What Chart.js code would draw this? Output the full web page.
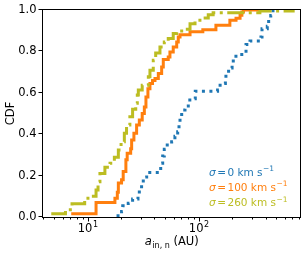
<!DOCTYPE html>
<html>
<head>
<meta charset="utf-8">
<script src="https://cdn.jsdelivr.net/npm/chart.js@4"></script>
<style>
  html, body { margin: 0; padding: 0; background: #fff; }
  #wrap { width: 307px; height: 255px; }
</style>
</head>
<body>
<div id="wrap"><canvas id="cdfChart" width="307" height="255"></canvas></div>
<script>
// step points: x = a_in,n (AU), y = CDF level reached at x
const sigma0X = [18.2, 20.2, 20.7, 23.2, 25.4, 28.4, 29.2, 30.6, 31.7, 34.0, 45.5, 47.4, 49.0, 52.1, 57.1, 61.1, 64.7, 66.5, 67.9, 70.3, 75.3, 80.6, 90.7, 93.2, 148, 156, 174, 176, 186, 200, 205, 229, 267, 290, 364, 372, 415, 427, 446, 467];
const sigma0Y = [0.006, 0.027, 0.054, 0.067, 0.087, 0.10, 0.128, 0.16, 0.193, 0.215, 0.26, 0.295, 0.327, 0.348, 0.364, 0.39, 0.412, 0.444, 0.48, 0.517, 0.536, 0.565, 0.571, 0.608, 0.613, 0.645, 0.655, 0.693, 0.72, 0.741, 0.777, 0.785, 0.833, 0.85, 0.87, 0.91, 0.922, 0.955, 0.974, 1.0];

const sigma100X = [7.11, 11.9, 17.6, 18.5, 18.9, 20.2, 20.9, 22.1, 22.7, 24.4, 24.9, 26.1, 27.6, 29.2, 31.0, 32.4, 33.5, 34.9, 36.4, 38.4, 40.4, 43.3, 46.4, 48.0, 53.2, 55.1, 59.0, 63.4, 65.5, 67.9, 83.6, 109, 143, 191, 217, 236, 245, 253, 379];
const sigma100Y = [0.016, 0.07, 0.09, 0.12, 0.164, 0.18, 0.22, 0.276, 0.308, 0.33, 0.372, 0.404, 0.444, 0.468, 0.5, 0.532, 0.58, 0.62, 0.645, 0.66, 0.669, 0.693, 0.725, 0.761, 0.773, 0.797, 0.821, 0.845, 0.87, 0.88, 0.895, 0.905, 0.926, 0.95, 0.96, 0.975, 0.99, 1.0, 1.0];

const sigma260X = [4.70, 6.31, 7.23, 9.40, 10.7, 11.9, 12.4, 12.9, 14.3, 15.9, 16.9, 17.4, 18.9, 20.0, 21.4, 22.4, 24.0, 25.4, 27.1, 28.0, 28.6, 31.0, 35.2, 36.4, 39.0, 41.0, 44.8, 49.0, 53.2, 59.0, 63.4, 70.3, 83.6, 92.7, 106, 122, 135, 356, 710];
const sigma260Y = [0.016, 0.035, 0.064, 0.09, 0.10, 0.13, 0.17, 0.21, 0.24, 0.26, 0.27, 0.289, 0.324, 0.364, 0.404, 0.444, 0.484, 0.52, 0.549, 0.589, 0.613, 0.637, 0.677, 0.709, 0.757, 0.792, 0.821, 0.845, 0.862, 0.886, 0.898, 0.907, 0.934, 0.95, 0.961, 0.977, 0.987, 0.995, 1.0];

const seriesNames = ['0', '100', '260'];
const seriesColors = ['#1f77b4', '#ff7f0e', '#bcbd22'];

const xTickVals = [4, 5, 6, 7, 8, 9, 10, 20, 30, 40, 50, 60, 70, 80, 90, 100, 200, 300, 400, 500, 600, 700, 800];
const xMajor = [10, 100];
const xMajorExp = ['1', '2'];
const yTicks = [0, 0.2, 0.4, 0.6, 0.8, 1.0];

const FONT = '"DejaVu Sans", sans-serif';

function pts(xs, ys) {
  return xs.map((v, i) => ({ x: v, y: ys[i] }));
}

// frame, tick marks, tick labels, axis titles and the coloured text legend
const axisDeco = {
  id: 'axisDeco',
  afterDraw(chart) {
    const { ctx, chartArea: a, scales: { x, y } } = chart;
    ctx.save();
    ctx.strokeStyle = '#000';
    ctx.lineWidth = 1;
    ctx.strokeRect(a.left - 0.5, a.top - 0.5, a.right - a.left + 1, a.bottom - a.top + 1);

    ctx.beginPath();
    xTickVals.forEach(v => {
      const px = Math.round(x.getPixelForValue(v)) + 0.5;
      const len = xMajor.includes(v) ? 4 : 2;
      ctx.moveTo(px, a.bottom + 0.5);
      ctx.lineTo(px, a.bottom + 0.5 + len);
    });
    yTicks.forEach(v => {
      const py = Math.round(y.getPixelForValue(v)) - 0.5;
      ctx.moveTo(a.left - 4.5, py);
      ctx.lineTo(a.left - 0.5, py);
    });
    ctx.stroke();

    ctx.fillStyle = '#000';
    ctx.font = '11.5px ' + FONT;
    ctx.textAlign = 'right';
    ctx.textBaseline = 'middle';
    yTicks.forEach(v => {
      ctx.fillText(v.toFixed(1), a.left - 6.5, y.getPixelForValue(v));
    });

    ctx.textAlign = 'left';
    ctx.textBaseline = 'alphabetic';
    xMajor.forEach((v, i) => {
      ctx.font = '11.5px ' + FONT;
      const w1 = ctx.measureText('10').width;
      ctx.font = '8px ' + FONT;
      const w2 = ctx.measureText(xMajorExp[i]).width;
      const x0 = x.getPixelForValue(v) - (w1 + w2) / 2;
      ctx.font = '11.5px ' + FONT;
      ctx.fillText('10', x0, 232);
      ctx.font = '8px ' + FONT;
      ctx.fillText(xMajorExp[i], x0 + w1 + 0.5, 227);
    });

    // x axis title: a_{in, n} (AU)
    ctx.font = 'italic 11.5px ' + FONT;
    const wa = ctx.measureText('a').width;
    ctx.font = '8px ' + FONT;
    const ws = ctx.measureText('in, n').width;
    ctx.font = '11.5px ' + FONT;
    const wu = ctx.measureText(' (AU)').width;
    let tx = (a.left + a.right) / 2 - (wa + ws + wu) / 2;
    ctx.font = 'italic 11.5px ' + FONT;
    ctx.fillText('a', tx, 245);
    tx += wa + 0.5;
    ctx.font = '8px ' + FONT;
    ctx.fillText('in, n', tx, 248);
    tx += ws;
    ctx.font = '11.5px ' + FONT;
    ctx.fillText(' (AU)', tx, 245);

    // y axis title
    ctx.save();
    ctx.translate(14, (a.top + a.bottom) / 2);
    ctx.rotate(-Math.PI / 2);
    ctx.textAlign = 'center';
    ctx.font = '11.5px ' + FONT;
    ctx.fillText('CDF', 0, 0);
    ctx.restore();

    // legend text
    const baselines = [175.5, 190.7, 206];
    seriesNames.forEach((n, i) => {
      let lx = 209;
      const by = baselines[i];
      ctx.fillStyle = seriesColors[i];
      ctx.font = 'italic 10.5px ' + FONT;
      ctx.fillText('σ', lx, by);
      lx += ctx.measureText('σ').width + 1.5;
      ctx.font = '10.5px ' + FONT;
      ctx.fillText('=', lx, by);
      lx += ctx.measureText('=').width + 1.5;
      const body = n + ' km s';
      ctx.fillText(body, lx, by);
      lx += ctx.measureText(body).width + 0.5;
      ctx.font = '7.5px ' + FONT;
      ctx.fillText('−1', lx, by - 4.5);
    });
    ctx.restore();
  }
};

const dashes = [[3, 4.5], [], [17, 4.5, 3, 4.5]];
const xsAll = [sigma0X, sigma100X, sigma260X];
const ysAll = [sigma0Y, sigma100Y, sigma260Y];

new Chart(document.getElementById('cdfChart').getContext('2d'), {
  type: 'scatter',
  data: {
    datasets: seriesNames.map((n, i) => ({
      label: 'σ = ' + n + ' km s⁻¹',
      data: pts(xsAll[i], ysAll[i]),
      showLine: true,
      stepped: 'before',
      borderColor: seriesColors[i],
      backgroundColor: seriesColors[i],
      borderWidth: 3,
      borderDash: dashes[i],
      pointRadius: 0,
      order: 3 - i
    }))
  },
  options: {
    responsive: false,
    animation: false,
    layout: { padding: { top: 10, right: 7, left: 0, bottom: 0 } },
    plugins: {
      legend: { display: false },
      tooltip: { enabled: false }
    },
    scales: {
      x: {
        type: 'logarithmic',
        min: 3.96,
        max: 818,
        grid: { display: false },
        border: { display: false },
        ticks: { display: false },
        afterFit: s => { s.height = 38; }
      },
      y: {
        min: 0,
        max: 1,
        grid: { display: false },
        border: { display: false },
        ticks: { display: false },
        afterFit: s => { s.width = 43; }
      }
    }
  },
  plugins: [axisDeco]
});
</script>
</body>
</html>
